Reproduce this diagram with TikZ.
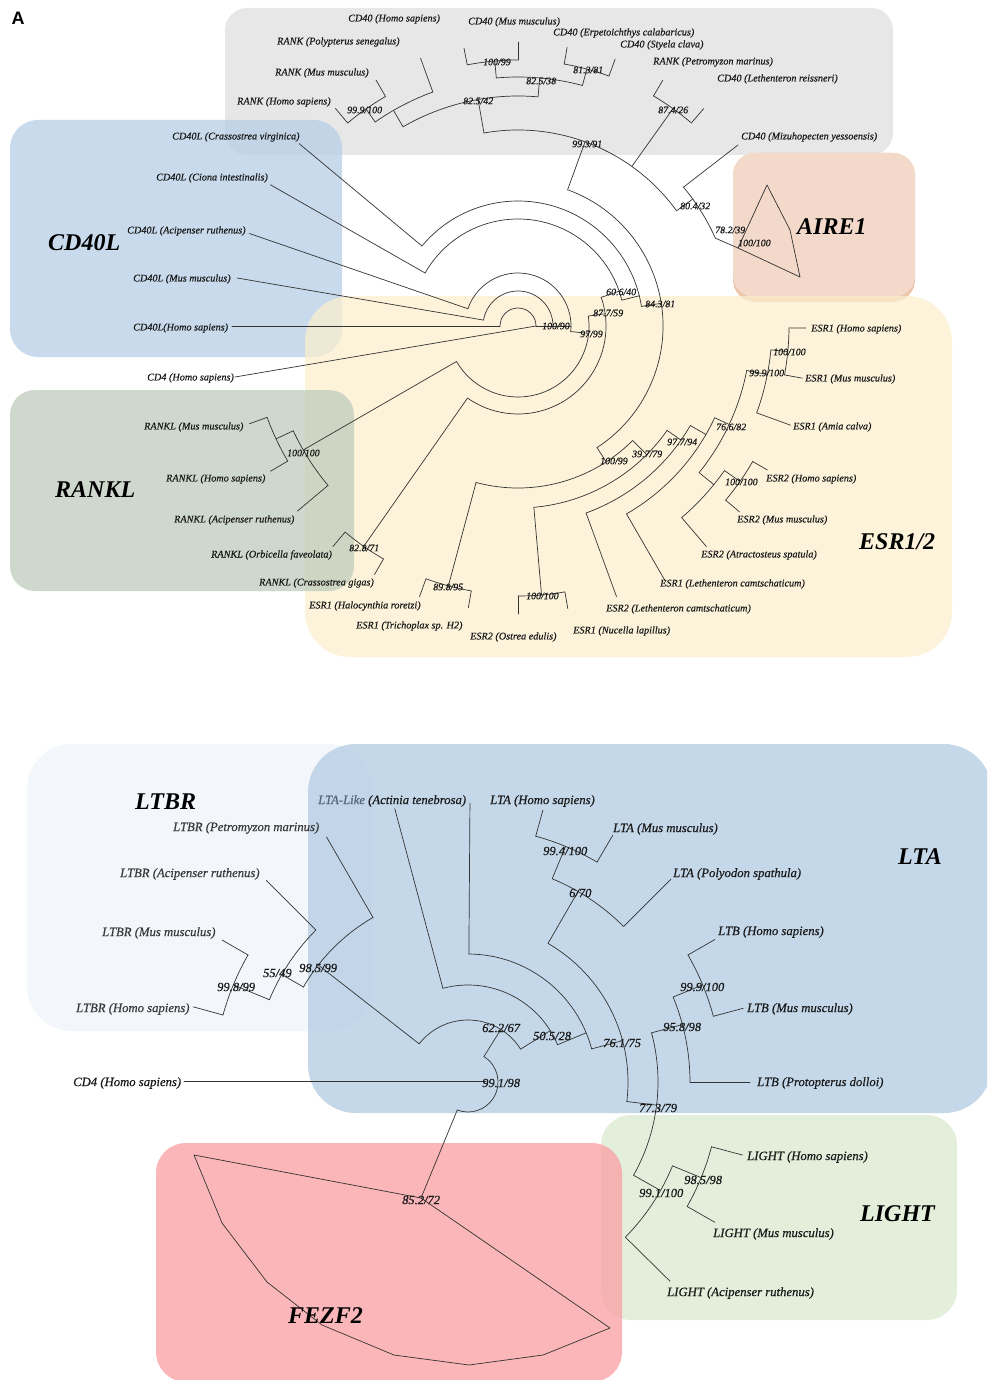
\documentclass[tikz,border=0pt]{standalone}
\usepackage{fontspec}
\setmainfont{Liberation Serif}
\newfontfamily\labfont{Liberation Serif}[FakeBold=0.45]
\newfontfamily\sansA{Liberation Sans}
\usetikzlibrary{calc}
\definecolor{treecol}{HTML}{333333}
\definecolor{labcol}{HTML}{1A1A1A}
\definecolor{ltbrcol}{HTML}{3A3A3A}
\definecolor{ltalike}{HTML}{56657A}
\definecolor{greybox}{RGB}{224,224,224}
\definecolor{cdlbox}{RGB}{182,206,230}
\definecolor{airebox}{RGB}{242,217,201}
\definecolor{aireedge}{RGB}{236,199,172}
\definecolor{esrbox}{RGB}{252,239,206}
\definecolor{ranklbox}{RGB}{192,204,188}
\definecolor{ltbrbox}{RGB}{239,244,250}
\definecolor{ltabox}{RGB}{178,203,227}
\definecolor{fezbox}{RGB}{250,158,162}
\definecolor{lightbox}{RGB}{218,234,208}
\newcommand{\TArc}[3]{\draw[tree] (#2:#1) arc[start angle=#2, end angle=#3, radius=#1];}
\newcommand{\TRad}[3]{\draw[tree] (#1:#2) -- (#1:#3);}
\tikzset{
  tree/.style={draw=treecol, line width=0.7pt, line join=round, line cap=round},
  lab/.style={font=\labfont\fontsize{10.2}{11}\selectfont\itshape, inner sep=0pt, anchor=west, text=labcol},
  blab/.style={font=\labfont\fontsize{12.7}{13}\selectfont\itshape, inner sep=0pt, anchor=west, text=labcol},
  bs/.style={font=\labfont\fontsize{9.9}{10}\selectfont\itshape, inner sep=0pt, anchor=west, text=labcol},
  bbs/.style={font=\labfont\fontsize{12.5}{13}\selectfont\itshape, inner sep=0pt, anchor=west, text=labcol},
  grp/.style={font=\fontsize{24}{24}\selectfont\bfseries\itshape, inner sep=0pt, anchor=west, text=black},
  box/.style={draw=none, fill opacity=0.75},
}
\begin{document}
\begin{tikzpicture}[x=1pt,y=-1pt]
\useasboundingbox (0,0) rectangle (987,1380);
\clip (0,0) rectangle (987,1380);
\fill[white] (0,0) rectangle (987,1380);
% ---------------- boxes (top)
\fill[box, fill=greybox, rounded corners=22] (225,8) rectangle (893,155);
\fill[box, fill=cdlbox, rounded corners=28] (10,120) rectangle (342,357);
\fill[fill=aireedge, rounded corners=22] (733,153) rectangle (915,302);
\fill[fill=airebox, rounded corners=22] (733,153) rectangle (915,297);
\fill[box, fill=esrbox, rounded corners=45] (305,296) rectangle (952,657);
\fill[box, fill=ranklbox, rounded corners=25] (10,390) rectangle (354,591);
% ---------------- boxes (bottom)
\fill[box, fill=ltbrbox, rounded corners=45] (27,744) rectangle (372,1031);
\fill[box, fill=ltabox, rounded corners=48] (308,744) rectangle (992,1113);
\fill[box, fill=lightbox, rounded corners=30] (601,1115) rectangle (957,1320);
\fill[box, fill=fezbox, rounded corners=30] (156,1143) rectangle (622,1382);

% ---------------- top tree (polar, centre 518,326)
\begin{scope}[shift={(518,326)}]
\TArc{18}{180}{360}
\TRad{180}{18}{286}
\draw[tree] (0:18) -- (-283,51);
\TRad{0}{18}{53}
\TArc{35}{-170.3}{0}
\TRad{-170.3}{35}{285}
\TArc{53}{-161}{6}
\TRad{-161}{53}{284}
\TRad{6}{53}{71}
\TArc{71}{-8}{150}
\TRad{-8}{71}{88}
\TArc{88}{-19}{125}
\TRad{-19}{88}{107}
\TArc{107}{-150.3}{-14}
\TRad{-150.3}{107}{285}
\TRad{-14}{107}{125}
\TArc{125}{-140.2}{-9}
\TRad{-140.2}{125}{285}
\TRad{-9}{125}{145}
\TArc{145}{-70}{57}
% CD40 / RANK clade
\TRad{-70}{145}{196}
\TArc{196}{-100}{-36}
\TRad{-100}{196}{230}
\TArc{230}{-120}{-85}
\TRad{-120}{230}{249}
\TArc{249}{-125}{-110}
\TRad{-125}{249}{265}
\TArc{265}{-130}{-120}
\TRad{-130}{265}{284}
\TRad{-120}{265}{284}
\TRad{-110}{249}{285}
\TRad{-85}{230}{249}
\TArc{249}{-95}{-75}
\TRad{-95}{249}{266}
\TArc{266}{-101}{-90}
\TRad{-101}{266}{283}
\TRad{-90}{266}{284}
\TRad{-75}{249}{266}
\TArc{266}{-80}{-70}
\TRad{-80}{266}{283}
\TRad{-70}{266}{284}
\TRad{-54.5}{196}{267}
\TArc{267}{-59.5}{-49.5}
\TRad{-59.5}{267}{285}
\TRad{-49.5}{267}{286}
% AIRE1 clade
\TRad{-36}{196}{216}
\TArc{216}{-40}{-24}
\draw[tree] (-40:216) -- (220,-181);
\draw[tree] (-24:216) -- (220,-78);
\draw[tree] (220,-78) -- (249,-141) -- (272,-96) -- (282,-49) -- cycle;
% RANKL clade
\TRad{150}{71}{248}
\TArc{248}{140}{155}
\TRad{140}{248}{288}
\TRad{155}{248}{267}
\TArc{267}{149.6}{160}
\TRad{149.6}{267}{287}
\TRad{160}{267}{286}
\TRad{125}{88}{269}
\TArc{269}{120}{130}
\TRad{130}{269}{288}
\TRad{120}{269}{287}
% ESR clade
\TRad{57}{145}{162}
\TArc{162}{45}{105}
\TRad{105}{162}{269}
\TArc{269}{100}{110}
\TRad{110}{269}{288}
\TRad{100}{269}{286}
\TRad{45}{162}{182}
\TArc{182}{35}{85}
\TRad{85}{182}{270}
\TArc{270}{80}{90}
\TRad{90}{270}{288}
\TRad{80}{270}{287}
\TRad{35}{182}{199}
\TArc{199}{30}{70}
\TRad{70}{199}{288}
\TRad{30}{199}{217}
\TArc{217}{25}{60}
\TRad{60}{217}{295}
\TRad{25}{217}{233}
\TArc{233}{11}{39}
\TRad{39}{233}{252}
\TArc{252}{35}{49.5}
\TRad{49.5}{252}{290}
\TRad{35}{252}{271}
\TArc{271}{30}{40}
\TRad{30}{271}{288}
\TRad{40}{271}{289}
\TRad{11}{233}{254}
\TArc{254}{5.4}{20}
\TRad{20}{254}{290}
\TRad{5.4}{254}{271}
\TArc{271}{0.4}{10.4}
\TRad{0.4}{271}{288}
\TRad{10.4}{271}{289}
\end{scope}

% ---------------- bottom tree (polar, centre 468,1082)
\begin{scope}[shift={(468,1082)}]
\draw[tree] (-284,-1) -- (18,-1);
\TArc{30}{-58}{111}
\draw[tree] (111:30) -- (-47,116);
\TRad{-58}{30}{62}
\TArc{62}{-142}{-32}
\TRad{-142}{62}{190}
\TArc{190}{-150}{-120}
\TRad{-120}{190}{283}
\TRad{-150}{190}{215}
\TArc{215}{-157.5}{-135}
\TRad{-135}{215}{285}
\TRad{-157.5}{215}{254}
\TArc{254}{-164.7}{-150}
\TRad{-150}{254}{284}
\TRad{-164.7}{254}{285}
\TRad{-32}{62}{97}
\TArc{97}{-105}{-22.6}
\TRad{-105}{97}{283}
\TRad{-22.6}{97}{128}
\TArc{128}{-89.6}{-15}
\TRad{-89.6}{128}{279}
\TRad{-15}{128}{160}
\TArc{160}{-60}{7}
\TRad{-60}{160}{220}
\TArc{220}{-67.5}{-45}
\TRad{-45}{220}{287}
\TRad{-67.5}{220}{255}
\TArc{255}{-74.6}{-59.6}
\TRad{-74.6}{255}{282}
\TRad{-59.6}{255}{286}
\TRad{7}{160}{190}
\TArc{190}{-15}{29.4}
\TRad{-15}{190}{222}
\TArc{222}{-22.5}{0}
\TRad{0}{222}{282}
\TRad{-22.5}{222}{254}
\TArc{254}{-30}{-15}
\TRad{-30}{254}{285}
\TRad{-15}{254}{285}
\TRad{29.4}{190}{221}
\TArc{221}{22.3}{44.6}
\TRad{44.6}{221}{284}
\TRad{22.3}{221}{252}
\TArc{252}{14.9}{29.6}
\TRad{14.9}{252}{284}
\TRad{29.6}{252}{284}
\end{scope}
% FEZF2 collapsed clade
\draw[tree] (194,1155) -- (421,1198) -- (610,1328) -- (543,1355) -- (469,1365) -- (394,1355) -- (322,1325) -- (267,1282) -- (222,1223) -- cycle;

% ---------------- top labels
\node[font={\sansA\bfseries\fontsize{18}{18}\selectfont}, inner sep=0pt, text=black] (panelA) at (18,18) {A};
\node[lab] (t1) at (348,19) {CD40 (Homo sapiens)};
\node[lab] (t2) at (468,22) {CD40 (Mus musculus)};
\node[lab] (t3) at (553,33) {CD40 (Erpetoichthys calabaricus)};
\node[lab] (t4) at (620,45) {CD40 (Styela clava)};
\node[lab] (t5) at (277,42) {RANK (Polypterus senegalus)};
\node[lab] (t6) at (275,73) {RANK (Mus musculus)};
\node[lab] (t7) at (237,102) {RANK (Homo sapiens)};
\node[lab] (t8) at (653,62) {RANK (Petromyzon marinus)};
\node[lab] (t9) at (717,79) {CD40 (Lethenteron reissneri)};
\node[lab] (t10) at (741,137) {CD40 (Mizuhopecten yessoensis)};
\node[lab] (t11) at (172,137) {CD40L (Crassostrea virginica)};
\node[lab] (t12) at (156,178) {CD40L (Ciona intestinalis)};
\node[lab] (t13) at (127,231) {CD40L (Acipenser ruthenus)};
\node[lab] (t14) at (133,279) {CD40L (Mus musculus)};
\node[lab] (t15) at (133,328) {CD40L(Homo sapiens)};
\node[lab] (t16) at (147,378) {CD4 (Homo sapiens)};
\node[lab] (t17) at (144,427) {RANKL (Mus musculus)};
\node[lab] (t18) at (166,479) {RANKL (Homo sapiens)};
\node[lab] (t19) at (174,520) {RANKL (Acipenser ruthenus)};
\node[lab] (t20) at (211,555) {RANKL (Orbicella faveolata)};
\node[lab] (t21) at (259,583) {RANKL (Crassostrea gigas)};
\node[lab] (t22) at (309,606) {ESR1 (Halocynthia roretzi)};
\node[lab] (t23) at (356,626) {ESR1 (Trichoplax sp. H2)};
\node[lab] (t24) at (470,637) {ESR2 (Ostrea edulis)};
\node[lab] (t25) at (573,631) {ESR1 (Nucella lapillus)};
\node[lab] (t26) at (606,609) {ESR2 (Lethenteron camtschaticum)};
\node[lab] (t27) at (660,584) {ESR1 (Lethenteron camtschaticum)};
\node[lab] (t28) at (701,555) {ESR2 (Atractosteus spatula)};
\node[lab] (t29) at (737,520) {ESR2 (Mus musculus)};
\node[lab] (t30) at (766,479) {ESR2 (Homo sapiens)};
\node[lab] (t31) at (793,427) {ESR1 (Amia calva)};
\node[lab] (t32) at (805,379) {ESR1 (Mus musculus)};
\node[lab] (t33) at (811,329) {ESR1 (Homo sapiens)};
% top bootstraps
\node[bs] (s1) at (483,62) {100/99};
\node[bs] (s2) at (526,81) {82.5/38};
\node[bs] (s3) at (573,70) {81.3/81};
\node[bs] (s4) at (463,101) {82.5/42};
\node[bs] (s5) at (347,110) {99.9/100};
\node[bs] (s6) at (658,110) {87.4/26};
\node[bs] (s7) at (572,144) {99.3/91};
\node[bs] (s8) at (680,206) {80.4/32};
\node[bs] (s9) at (715,230) {78.2/39};
\node[bs] (s10) at (738,243) {100/100};
\node[bs] (s11) at (606,292) {60.6/40};
\node[bs] (s12) at (645,304) {84.3/81};
\node[bs] (s13) at (593,313) {87.7/59};
\node[bs] (s14) at (542,326) {100/90};
\node[bs] (s15) at (580,334) {97/99};
\node[bs] (s16) at (773,352) {100/100};
\node[bs] (s17) at (749,373) {99.9/100};
\node[bs] (s18) at (716,427) {76.6/82};
\node[bs] (s19) at (667,442) {97.7/94};
\node[bs] (s20) at (632,454) {39.7/79};
\node[bs] (s21) at (600,461) {100/99};
\node[bs] (s22) at (287,453) {100/100};
\node[bs] (s23) at (349,548) {82.8/71};
\node[bs] (s24) at (433,587) {89.8/95};
\node[bs] (s25) at (725,482) {100/100};
\node[bs] (s26) at (526,596) {100/100};
% top group names
\node[grp] (gCD40L) at (48,243) {CD40L};
\node[grp] (gRANKL) at (55,490) {RANKL};
\node[grp] (gAIRE) at (797,227) {AIRE1};
\node[grp] (gESR) at (859,542) {ESR1/2};

% ---------------- bottom labels
\node[blab] (b1) at (318,801) {\textcolor{ltalike}{LTA-Like} (Actinia tenebrosa)};
\node[blab] (b2) at (490,801) {LTA (Homo sapiens)};
\node[blab] (b3) at (613,829) {LTA (Mus musculus)};
\node[blab] (b4) at (673,874) {LTA (Polyodon spathula)};
\node[blab] (b5) at (718,932) {LTB (Homo sapiens)};
\node[blab] (b6) at (747,1009) {LTB (Mus musculus)};
\node[blab] (b7) at (757,1083) {LTB (Protopterus dolloi)};
\node[blab, text=ltbrcol] (b8) at (173,828) {LTBR (Petromyzon marinus)};
\node[blab, text=ltbrcol] (b9) at (120,874) {LTBR (Acipenser ruthenus)};
\node[blab, text=ltbrcol] (b10) at (102,933) {LTBR (Mus musculus)};
\node[blab, text=ltbrcol] (b11) at (76,1009) {LTBR (Homo sapiens)};
\node[blab] (b12) at (73,1083) {CD4 (Homo sapiens)};
\node[blab] (b13) at (747,1157) {LIGHT (Homo sapiens)};
\node[blab] (b14) at (713,1234) {LIGHT (Mus musculus)};
\node[blab] (b15) at (667,1293) {LIGHT (Acipenser ruthenus)};
% bottom bootstraps
\node[bbs] (u1) at (543,851) {99.4/100};
\node[bbs] (u2) at (569,893) {6/70};
\node[bbs] (u3) at (680,987) {99.9/100};
\node[bbs] (u4) at (663,1027) {95.8/98};
\node[bbs] (u5) at (482,1028) {62.2/67};
\node[bbs] (u6) at (533,1036) {50.5/28};
\node[bbs] (u7) at (603,1043) {76.1/75};
\node[bbs] (u8) at (482,1083) {99.1/98};
\node[bbs] (u9) at (639,1108) {77.3/79};
\node[bbs] (u10) at (299,968) {98.5/99};
\node[bbs] (u11) at (263,973) {55/49};
\node[bbs] (u12) at (217,987) {99.8/99};
\node[bbs] (u13) at (684,1180) {98.5/98};
\node[bbs] (u14) at (639,1193) {99.1/100};
\node[bbs] (u15) at (402,1200) {85.2/72};
% bottom group names
\node[grp] (gLTBR) at (135,802) {LTBR};
\node[grp] (gLTA) at (898,857) {LTA};
\node[grp] (gLIGHT) at (860,1214) {LIGHT};
\node[grp] (gFEZF2) at (288,1316) {FEZF2};
\end{tikzpicture}
\end{document}
